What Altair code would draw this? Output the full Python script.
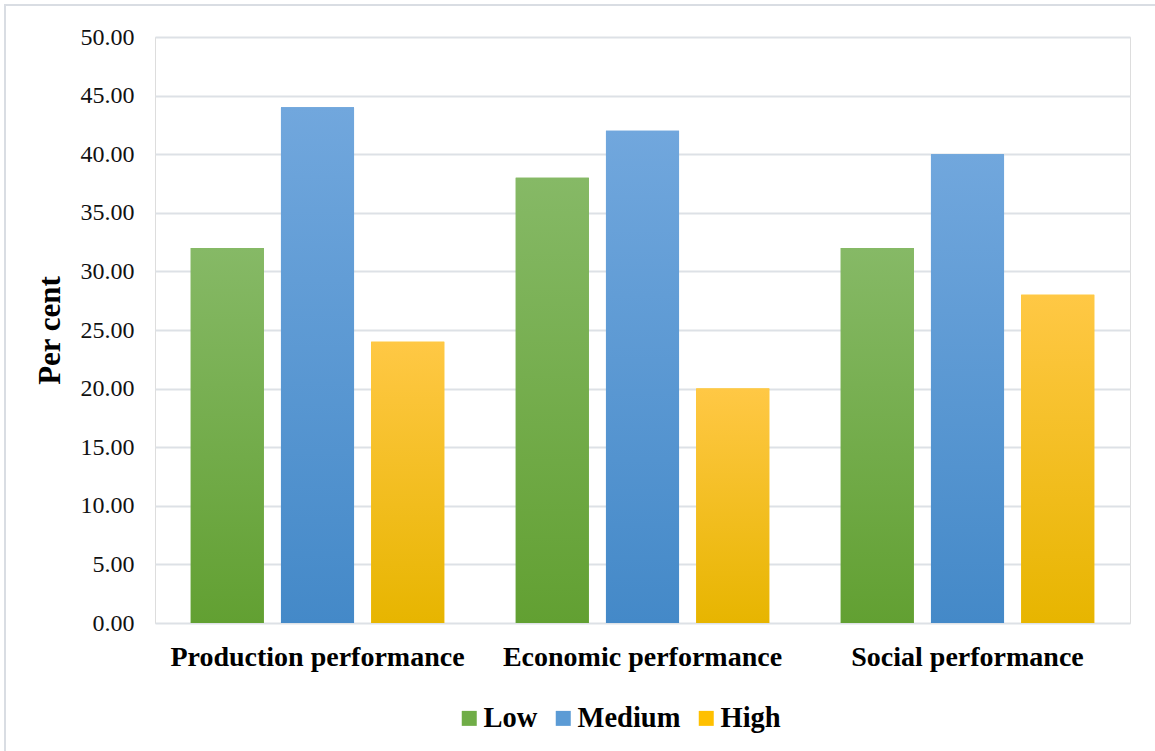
import altair as alt
import pandas as pd

# Share of respondents by performance level
categories = ["Production performance", "Economic performance", "Social performance"]
levels = ["Low", "Medium", "High"]
low = [32.0, 38.0, 32.0]
medium = [44.0, 42.0, 40.0]
high = [24.0, 20.0, 28.0]

base_colors = ["#70ad47", "#5b9bd5", "#ffc000"]
gradients = {
    "Low": ("#86b966", "#62a032"),
    "Medium": ("#71a7dd", "#4489c8"),
    "High": ("#ffc845", "#e7b500"),
}

rows = []
for i, cat in enumerate(categories):
    for lvl, vals in zip(levels, [low, medium, high]):
        rows.append({"category": cat, "level": lvl, "value": vals[i]})
df = pd.DataFrame(rows)

FONT = "Times New Roman, Liberation Serif, serif"
W, H = 975, 586

x_enc = alt.X(
    "category:N",
    sort=categories,
    scale=alt.Scale(paddingInner=0.22, paddingOuter=0.11),
    axis=alt.Axis(
        title=None, labelAngle=0, ticks=False, domain=False, labelLimit=500,
        labelFont=FONT, labelFontSize=28, labelFontWeight="bold",
        labelColor="#000000", labelPadding=20,
    ),
)
y_enc = alt.Y(
    "value:Q",
    scale=alt.Scale(domain=[0, 50], nice=False),
    axis=alt.Axis(
        title="Per cent", values=list(range(0, 51, 5)), format=".2f",
        ticks=False, domain=False, grid=True, gridColor="#dde1e6", gridWidth=2,
        labelFont=FONT, labelFontSize=24, labelColor="#111111", labelPadding=21,
        titleFont=FONT, titleFontSize=31, titleFontWeight="bold",
        titleColor="#000000", titlePadding=14,
    ),
)
xoff = alt.XOffset("level:N", sort=levels,
                   scale=alt.Scale(domain=levels, paddingInner=0.19, paddingOuter=0))

solid = alt.Chart(df).mark_bar().encode(
    x=x_enc, y=y_enc, xOffset=xoff,
    color=alt.Color(
        "level:N", sort=levels,
        scale=alt.Scale(domain=levels, range=base_colors),
        legend=alt.Legend(
            title=None, orient="none", direction="horizontal",
            legendX=300, legendY=667,
            symbolType="square", symbolSize=225, symbolStrokeWidth=0,
            labelFont=FONT, labelFontSize=28.5, labelFontWeight="bold",
            labelColor="#000000", labelOffset=0, columnPadding=11,
        ),
    ),
)

layers = [solid]
for lvl in levels:
    top, bottom = gradients[lvl]
    layers.append(
        alt.Chart(df).transform_filter(alt.datum.level == lvl).mark_bar(
            fill=alt.Gradient(
                gradient="linear",
                stops=[alt.GradientStop(color=top, offset=0),
                       alt.GradientStop(color=bottom, offset=1)],
                x1=0, x2=0, y1=0, y2=1,
            )
        ).encode(x=x_enc, y=y_enc, xOffset=xoff)
    )

# Light frame around the whole figure
frame = alt.Chart(pd.DataFrame({"k": [0]})).mark_rect(
    fill=None, stroke="#d9dde3", strokeWidth=2
).encode(
    x=alt.value(-150), x2=alt.value(W + 40),
    y=alt.value(-32), y2=alt.value(H + 160),
)

chart = alt.layer(*layers, frame).properties(
    width=W, height=H,
    autosize=alt.AutoSizeParams(type="none"),
    padding={"left": 155, "top": 37, "right": 25, "bottom": 128},
).configure_view(stroke=None).configure(background="#ffffff")

chart.save("out.html", embed_options={"renderer": "svg", "actions": False})
